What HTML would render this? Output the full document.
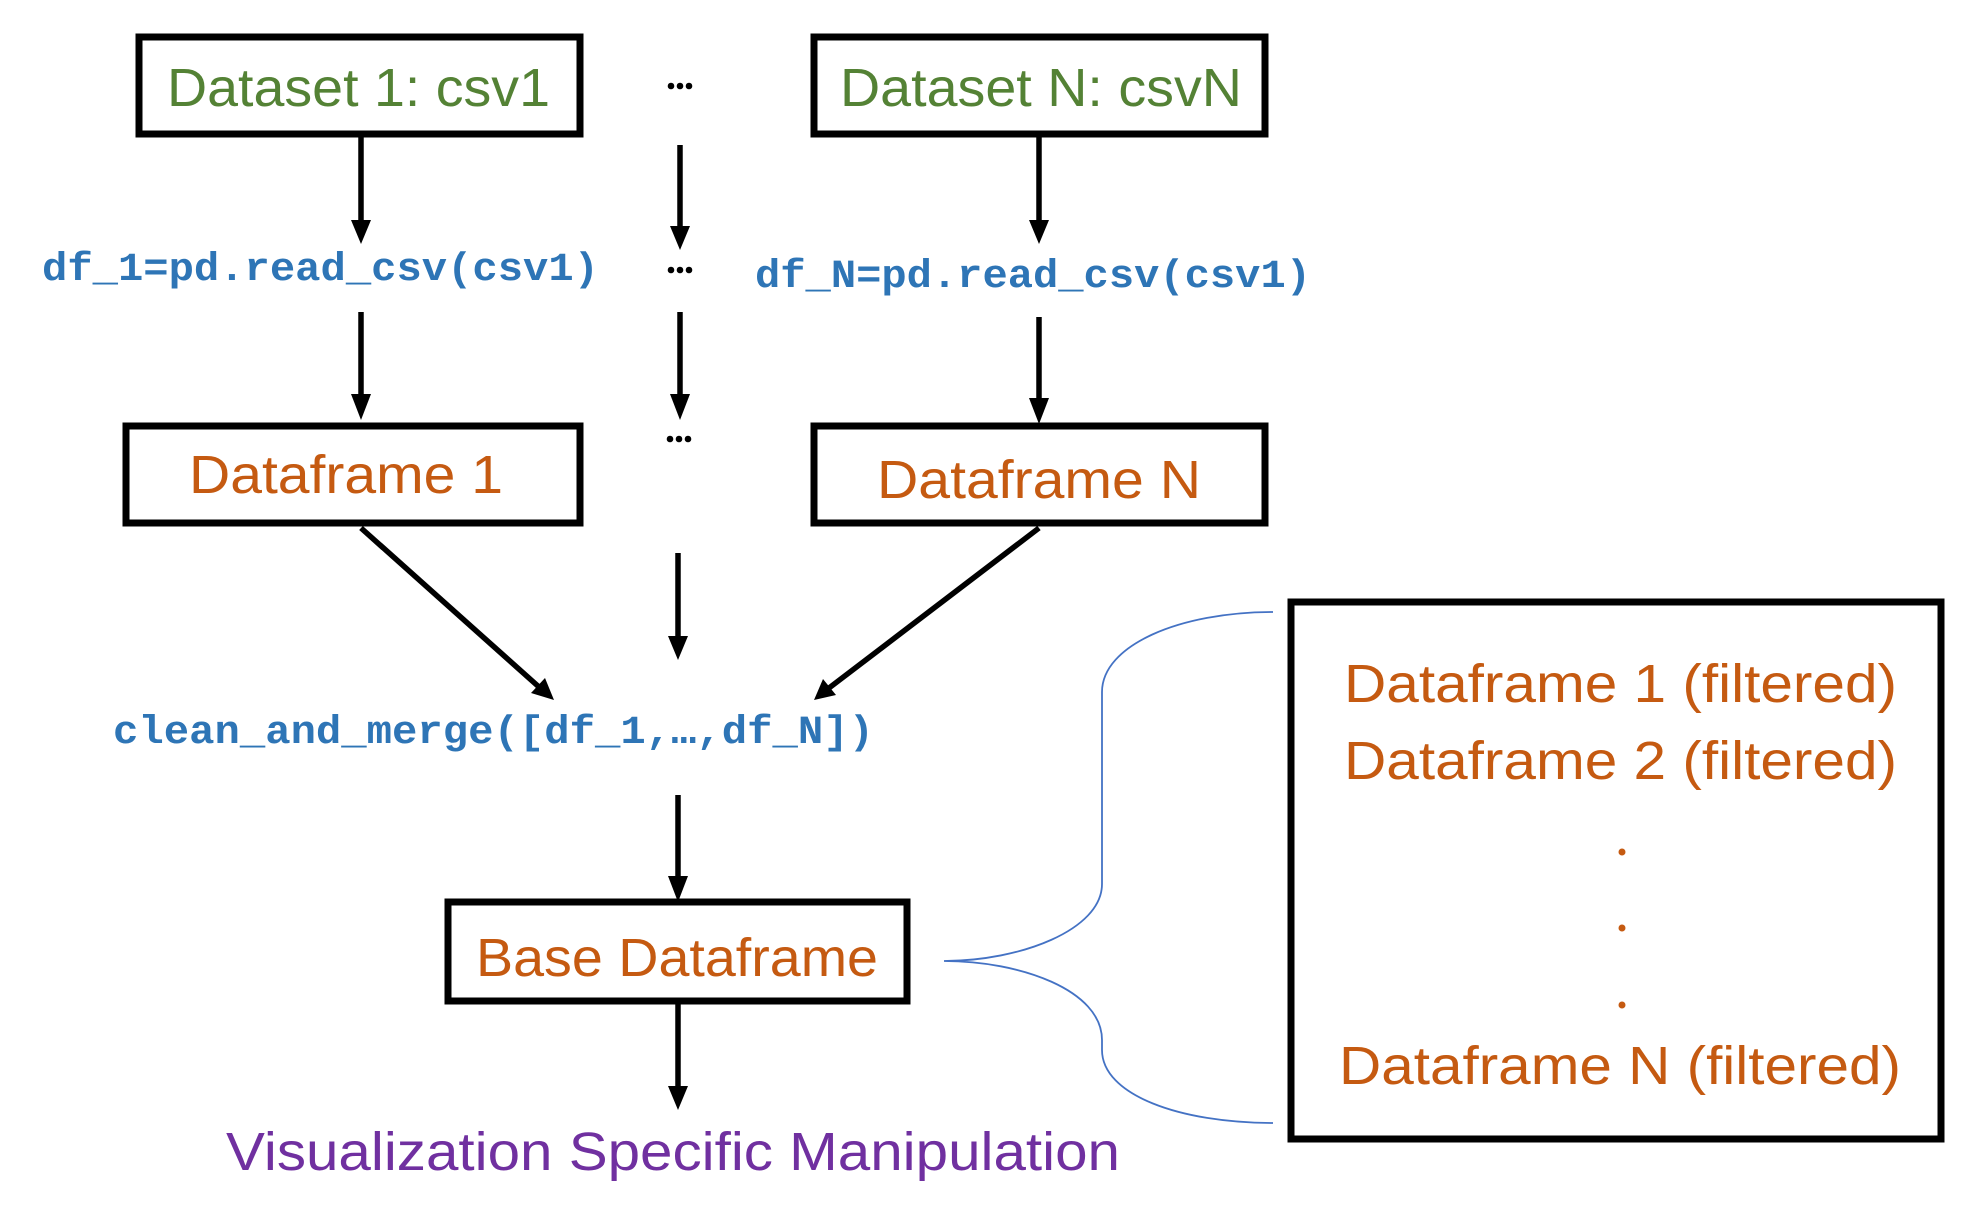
<!DOCTYPE html>
<html><head><meta charset="utf-8"><style>
html,body{margin:0;padding:0;background:#fff;}
svg{display:block;}
.c{font-family:"Liberation Sans",sans-serif;font-size:54px;}
.m{font-family:"Liberation Mono",monospace;font-size:40px;font-weight:bold;fill:#2E75B6;}
</style></head><body>
<svg width="1962" height="1220" viewBox="0 0 1962 1220" xmlns="http://www.w3.org/2000/svg">
<g fill="none" stroke="#000" stroke-width="7">
<rect x="139" y="37" width="441" height="97"/>
<rect x="814" y="37" width="451" height="97"/>
<rect x="126" y="426" width="454" height="97"/>
<rect x="814" y="426" width="451" height="97"/>
<rect x="448" y="902" width="459" height="99"/>
<rect x="1291" y="602" width="650" height="537"/>
</g>
<g stroke="#000" stroke-width="5.5">
<line x1="361" y1="137" x2="361" y2="222"/>
<line x1="680" y1="145" x2="680" y2="228"/>
<line x1="1039" y1="137" x2="1039" y2="222"/>
<line x1="361" y1="312" x2="361" y2="396"/>
<line x1="680" y1="312" x2="680" y2="396"/>
<line x1="1039" y1="317" x2="1039" y2="400"/>
<line x1="361" y1="528" x2="539" y2="687"/>
<line x1="678" y1="553" x2="678" y2="638"/>
<line x1="1039" y1="528" x2="829" y2="688"/>
<line x1="678" y1="795" x2="678" y2="878"/>
<line x1="678" y1="1004" x2="678" y2="1088"/>
</g>
<g fill="#000">
<polygon points="351,220 371,220 361,244"/>
<polygon points="670,226 690,226 680,250"/>
<polygon points="1029,220 1049,220 1039,244"/>
<polygon points="351,394 371,394 361,420"/>
<polygon points="670,394 690,394 680,420"/>
<polygon points="1029,398 1049,398 1039,424"/>
<polygon points="554,700 531,693 545,678"/>
<polygon points="814,700 823,679 836,695"/>
<polygon points="668,636 688,636 678,660"/>
<polygon points="668,876 688,876 678,902"/>
<polygon points="668,1086 688,1086 678,1110"/>
</g>
<path d="M1273,612 C1180,612 1102,645 1102,692 L1102,884 C1102,930 1020,961 944,961 C1020,961 1102,990 1102,1040 L1102,1050 C1102,1095 1180,1123 1273,1123" fill="none" stroke="#4472C4" stroke-width="1.8"/>
<g class="c" fill="#548235">
<text x="167" y="106" textLength="383" lengthAdjust="spacingAndGlyphs">Dataset 1: csv1</text>
<text x="840" y="106" textLength="402" lengthAdjust="spacingAndGlyphs">Dataset N: csvN</text>
</g>
<g class="c" fill="#C55A11">
<text x="189" y="493" textLength="314" lengthAdjust="spacingAndGlyphs">Dataframe 1</text>
<text x="877" y="498" textLength="324" lengthAdjust="spacingAndGlyphs">Dataframe N</text>
<text x="476" y="976" textLength="402" lengthAdjust="spacingAndGlyphs">Base Dataframe</text>
<text x="1344" y="702" textLength="553" lengthAdjust="spacingAndGlyphs">Dataframe 1 (filtered)</text>
<text x="1344" y="779" textLength="553" lengthAdjust="spacingAndGlyphs">Dataframe 2 (filtered)</text>
<text x="1339" y="1084" textLength="562" lengthAdjust="spacingAndGlyphs">Dataframe N (filtered)</text>
<circle cx="1622" cy="852" r="3.5"/>
<circle cx="1622" cy="928" r="3.5"/>
<circle cx="1622" cy="1005" r="3.5"/>
</g>
<text class="c" fill="#7030A0" x="226" y="1170" textLength="894" lengthAdjust="spacingAndGlyphs">Visualization Specific Manipulation</text>
<text class="m" x="42" y="280" textLength="557" lengthAdjust="spacingAndGlyphs">df_1=pd.read_csv(csv1)</text>
<text class="m" x="755" y="287" textLength="556" lengthAdjust="spacingAndGlyphs">df_N=pd.read_csv(csv1)</text>
<text class="m" x="113" y="743" textLength="761" lengthAdjust="spacingAndGlyphs">clean_and_merge([df_1,…,df_N])</text>
<g fill="#000">
<circle cx="671" cy="86" r="3.3"/><circle cx="680" cy="86" r="3.3"/><circle cx="689" cy="86" r="3.3"/>
<circle cx="671" cy="270" r="3.3"/><circle cx="680" cy="270" r="3.3"/><circle cx="689" cy="270" r="3.3"/>
<circle cx="670" cy="439" r="3.3"/><circle cx="679" cy="439" r="3.3"/><circle cx="688" cy="439" r="3.3"/>
</g>
</svg>
</body></html>
